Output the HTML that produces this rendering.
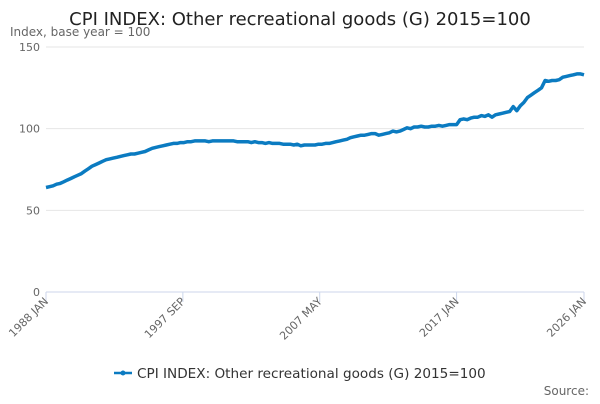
<!DOCTYPE html>
<html><head><meta charset="utf-8">
<style>
body{margin:0;background:#fff;font-family:"DejaVu Sans",sans-serif;}
svg text{font-family:"DejaVu Sans",sans-serif;}
</style></head>
<body>
<svg id="chart" width="600" height="400">
<text x="300" y="25" text-anchor="middle" font-size="18" fill="#222">CPI INDEX: Other recreational goods (G) 2015=100</text>
<text x="10" y="36" font-size="12" fill="#666">Index, base year = 100</text>
<g id="grid"></g><g id="xaxis"></g><g id="series"></g>
<g>
<line x1="114" y1="373" x2="132" y2="373" stroke="#0b7bc1" stroke-width="2.5"/>
<circle cx="123" cy="373" r="2.5" fill="#0b7bc1"/>
<text x="137" y="378" font-size="13.6" fill="#333">CPI INDEX: Other recreational goods (G) 2015=100</text>
</g>
<text x="589" y="395" text-anchor="end" font-size="12" fill="#666">Source:</text>
</svg>
<script>
const yTicks=[0,50,100,150];
const xTickLabels=["1988 JAN","1997 SEP","2007 MAY","2017 JAN","2026 JAN"];
const xTickMonths=[0,116,232,348,456];
// quarterly values (Jan, Apr, Jul, Oct), one line per year from 1988
const values=[
64,64.5,65,66,
66.5,67.5,68.5,69.5,
70.5,71.5,72.5,74,
75.5,77,78,79,
80,81,81.5,82,
82.5,83,83.5,84,
84.5,84.5,85,85.5,
86,87,88,88.5,
89,89.5,90,90.5,
91,91,91.5,91.5,
92,92,92.5,92.5,
92.5,92.5,92,92.5,
92.5,92.5,92.5,92.5,
92.5,92.5,92,92,
92,92,91.5,92,
91.5,91.5,91,91.5,
91,91,91,90.5,
90.5,90.5,90,90.5,
89.5,90,90,90,
90,90.5,90.5,91,
91,91.5,92,92.5,
93,93.5,94.5,95,
95.5,96,96,96.5,
97,97,96,96.5,
97,97.5,98.5,98,
98.5,99.5,100.5,100,
101,101,101.5,101,
101,101.5,101.5,102,
101.5,102,102.5,102.5,
102.5,105.5,106,105.5,
106.5,107,107,108,
107.5,108.5,107,108.5,
109,109.5,110,110.5,
113.5,111,114,116,
119,120.5,122,123.5,
125,129.5,129,129.5,
129.5,130,131.5,132,
132.5,133,133.5,133.5,
133
];
const X=m=>46+m*(538/456), Y=v=>292-v*245/150;
const ns="http://www.w3.org/2000/svg";
const g=document.getElementById('grid');
yTicks.forEach(t=>{
 const l=document.createElementNS(ns,'line');
 l.setAttribute('x1',46);l.setAttribute('x2',584);l.setAttribute('y1',Y(t));l.setAttribute('y2',Y(t));
 l.setAttribute('stroke',t===0?'#ccd6eb':'#e6e6e6');
 
 
 g.appendChild(l);
 const tx=document.createElementNS(ns,'text');
 tx.setAttribute('x',40);tx.setAttribute('y',Y(t)+4);tx.setAttribute('text-anchor','end');
 tx.setAttribute('font-size','11');tx.setAttribute('fill','#666');tx.textContent=t;
 
 
 g.appendChild(tx);
});
const xa=document.getElementById('xaxis');
xTickMonths.forEach((m,i)=>{
 const l=document.createElementNS(ns,'line');
 l.setAttribute('x1',X(m));l.setAttribute('x2',X(m));l.setAttribute('y1',292);l.setAttribute('y2',302);
 l.setAttribute('stroke','#ccd6eb');
 
 
 xa.appendChild(l);
 const tx=document.createElementNS(ns,'text');
 const x=X(m)+3,y=302;
 tx.setAttribute('transform',`translate(${x},${y}) rotate(-45)`);
 tx.setAttribute('text-anchor','end');tx.setAttribute('font-size','11');tx.setAttribute('fill','#666');
 tx.textContent=xTickLabels[i];
 
 
 xa.appendChild(tx);
});
const pts=values.map((v,i)=>X(i*3).toFixed(1)+','+Y(v).toFixed(1)).join(' ');
const p=document.createElementNS(ns,'polyline');
p.setAttribute('points',pts);p.setAttribute('fill','none');p.setAttribute('stroke','#0b7bc1');
p.setAttribute('stroke-width','3.5');p.setAttribute('stroke-linejoin','round');


document.getElementById('series').appendChild(p);
</script>
</body></html>
